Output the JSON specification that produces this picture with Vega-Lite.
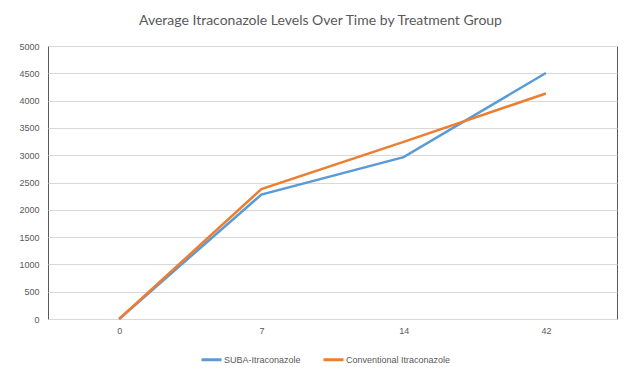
{
  "$schema": "https://vega.github.io/schema/vega-lite/v6.json",
  "autosize": {"type": "none"},
  "padding": {"left": 48, "top": 46, "right": 12, "bottom": 50},
  "width": 569,
  "height": 273,
  "background": "white",
  "title": {
    "text": "Average Itraconazole Levels Over Time by Treatment Group",
    "font": "Lato",
    "fontSize": 14,
    "fontWeight": "normal",
    "color": "#595959",
    "anchor": "middle",
    "dx": -12,
    "offset": 14
  },
  "data": {
    "values": [
      {"day": 0, "group": "SUBA-Itraconazole", "level": 0},
      {"day": 7, "group": "SUBA-Itraconazole", "level": 2280},
      {"day": 14, "group": "SUBA-Itraconazole", "level": 2965},
      {"day": 42, "group": "SUBA-Itraconazole", "level": 4505},
      {"day": 0, "group": "Conventional Itraconazole", "level": 0},
      {"day": 7, "group": "Conventional Itraconazole", "level": 2380},
      {"day": 14, "group": "Conventional Itraconazole", "level": 3245},
      {"day": 42, "group": "Conventional Itraconazole", "level": 4130}
    ]
  },
  "mark": {"type": "line", "strokeWidth": 2.5},
  "encoding": {
    "x": {
      "field": "day",
      "type": "ordinal",
      "title": null,
      "axis": {
        "labelAngle": 0,
        "labelFont": "Liberation Sans",
        "labelFontSize": 9,
        "labelColor": "#595959",
        "labelPadding": 7,
        "ticks": false,
        "domain": false,
        "grid": false
      }
    },
    "y": {
      "field": "level",
      "type": "quantitative",
      "title": null,
      "scale": {"domain": [0, 5000], "nice": false},
      "axis": {
        "values": [0, 500, 1000, 1500, 2000, 2500, 3000, 3500, 4000, 4500, 5000],
        "format": "d",
        "labelFont": "Liberation Sans",
        "labelFontSize": 9,
        "labelColor": "#595959",
        "labelPadding": 9,
        "ticks": false,
        "domain": false,
        "gridColor": "#D9D9D9",
        "gridWidth": 1
      }
    },
    "color": {
      "field": "group",
      "type": "nominal",
      "scale": {
        "domain": ["SUBA-Itraconazole", "Conventional Itraconazole"],
        "range": ["#5B9BD5", "#ED7D31"]
      },
      "legend": {
        "title": null,
        "orient": "none",
        "direction": "horizontal",
        "legendX": 152,
        "legendY": 302,
        "symbolType": "stroke",
        "symbolSize": 400,
        "symbolStrokeWidth": 3,
        "labelFont": "Liberation Sans",
        "labelFontSize": 9,
        "labelColor": "#595959",
        "labelOffset": 1,
        "columnPadding": 16
      }
    }
  },
  "config": {
    "view": {"stroke": "#595959", "strokeWidth": 1}
  }
}
